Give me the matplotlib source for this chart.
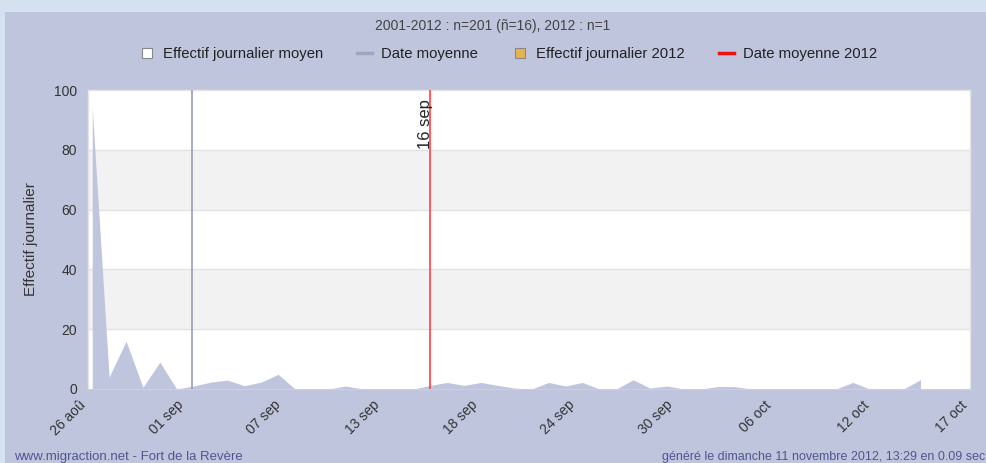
import numpy as np
import matplotlib
matplotlib.use("Agg")
import matplotlib.pyplot as plt
import matplotlib.transforms as mtransforms
from matplotlib.patches import Rectangle
from matplotlib.lines import Line2D

plt.rcParams['font.family'] = ['Liberation Sans', 'DejaVu Sans']

# ---- data ----
daily_mean = [94, 4, 16, 0.6, 9, 0, 1.0, 2.3, 3.0, 1.1,
              2.3, 4.9, 0, 0, 0, 1.0, 0, 0, 0, 0,
              1.2, 2.2, 1.2, 2.2, 1.2, 0.3, 0, 2.2, 1.0, 2.2,
              0, 0, 3.1, 0.3, 1.0, 0, 0, 0.8, 0.8, 0,
              0, 0, 0, 0, 0, 2.2, 0, 0, 0, 3.1]
tick_labels = ["26 aoû", "01 sep", "07 sep", "13 sep", "18 sep",
               "24 sep", "30 sep", "06 oct", "12 oct", "17 oct"]
mean_date_all = 5.9
mean_date_2012 = 20.0
mean_date_2012_label = "16 sep"
title = "2001-2012 : n=201 (ñ=16), 2012 : n=1"
legend_labels = ["Effectif journalier moyen", "Date moyenne",
                 "Effectif journalier 2012", "Date moyenne 2012"]
y_ticks = [0, 20, 40, 60, 80, 100]

W, H = 986, 463
fig = plt.figure(figsize=(W / 100, H / 100), dpi=100, facecolor='#d5e0f0')
fig.patches.append(Rectangle((5 / W, 0), 1, (H - 12) / H, transform=fig.transFigure,
                             facecolor='#c0c5de', edgecolor='none', zorder=-5))

L, R, T, B = 88, 970, 90, 389
ax = fig.add_axes([L / W, (H - B) / H, (R - L) / W, (B - T) / H])
ax.set_zorder(2)
ax.set_facecolor('white')

x = np.arange(len(daily_mean))
xmin, xmax = -0.25, 51.93
ax.set_xlim(xmin, xmax)
ax.set_ylim(0, 100)

# bands
for lo, hi in [(20, 40), (60, 80)]:
    ax.axhspan(lo, hi, color='#f2f2f2', zorder=0, lw=0)
for yv in [20, 40, 60, 80]:
    ax.axhline(yv, color='#e2e2e2', lw=1, zorder=0.5)

ax.fill_between(x, 0, daily_mean, color='#c0c5de', lw=0, zorder=2)

ax.axvline(mean_date_all, color='#8f94b4', lw=1.1, zorder=3)
ax.axvline(mean_date_2012, color='#ff4040', lw=1.2, zorder=3)
label_shift = mtransforms.ScaledTranslation(3 / 100, 0, fig.dpi_scale_trans)
ax.text(mean_date_2012, 97, mean_date_2012_label, rotation=90, ha='right', va='top',
        fontsize=12, color='#222222', zorder=4, transform=ax.transData + label_shift)

for s in ['top', 'right', 'left']:
    ax.spines[s].set_color('#e4e4e4')
    ax.spines[s].set_linewidth(1)
ax.spines['bottom'].set_color('#d0d0d0')

ax.set_yticks(y_ticks)
ax.set_yticklabels([str(v) for v in y_ticks], fontsize=10, color='#333333')
ticks = np.linspace(xmin, xmax, len(tick_labels))
ax.set_xticks(ticks)
ax.set_xticklabels([])
ax.tick_params(axis='x', length=0)
ax.tick_params(axis='y', length=0, pad=8)
lab_off = mtransforms.ScaledTranslation(-10 / 100, -9 / 100, fig.dpi_scale_trans)
for tx, lab in zip(ticks, tick_labels):
    ax.text(tx, 0, lab, rotation=45, ha='right', va='top', rotation_mode='anchor',
            fontsize=10, color='#333333', transform=ax.get_xaxis_transform() + lab_off,
            clip_on=False)
ax.set_ylabel("Effectif journalier", fontsize=11, color='#333333', labelpad=11)

fig.text(493 / W, 1 - 26 / H, title, ha='center', va='center', fontsize=10, color='#444444')

handles = [
    Line2D([], [], marker='s', ls='none', markersize=7, markerfacecolor='white',
           markeredgecolor='#888888', markeredgewidth=0.8),
    Line2D([], [], color='#a0a4bc', lw=2.5),
    Line2D([], [], marker='s', ls='none', markersize=7, markerfacecolor='#e8b24c',
           markeredgecolor='#888888', markeredgewidth=0.8),
    Line2D([], [], color='#ee1111', lw=2.5),
]
fig.legend(handles, legend_labels, loc='center', bbox_to_anchor=(508 / W, 1 - 54 / H),
           ncol=4, frameon=False, fontsize=10.7, handlelength=1.0, handletextpad=0.6,
           columnspacing=2.3, labelcolor='#222222')

fig.text(14 / W, 1 - 457 / H, "www.migraction.net - Fort de la Revère", ha='left', va='center',
         fontsize=9.5, color='#4f5690')
fig.text(662 / W, 1 - 457 / H, "généré le dimanche 11 novembre 2012, 13:29 en 0.09 sec",
         ha='left', va='center', fontsize=9, color='#4f5690')

fig.savefig('out.png', dpi=100, facecolor=fig.get_facecolor())
